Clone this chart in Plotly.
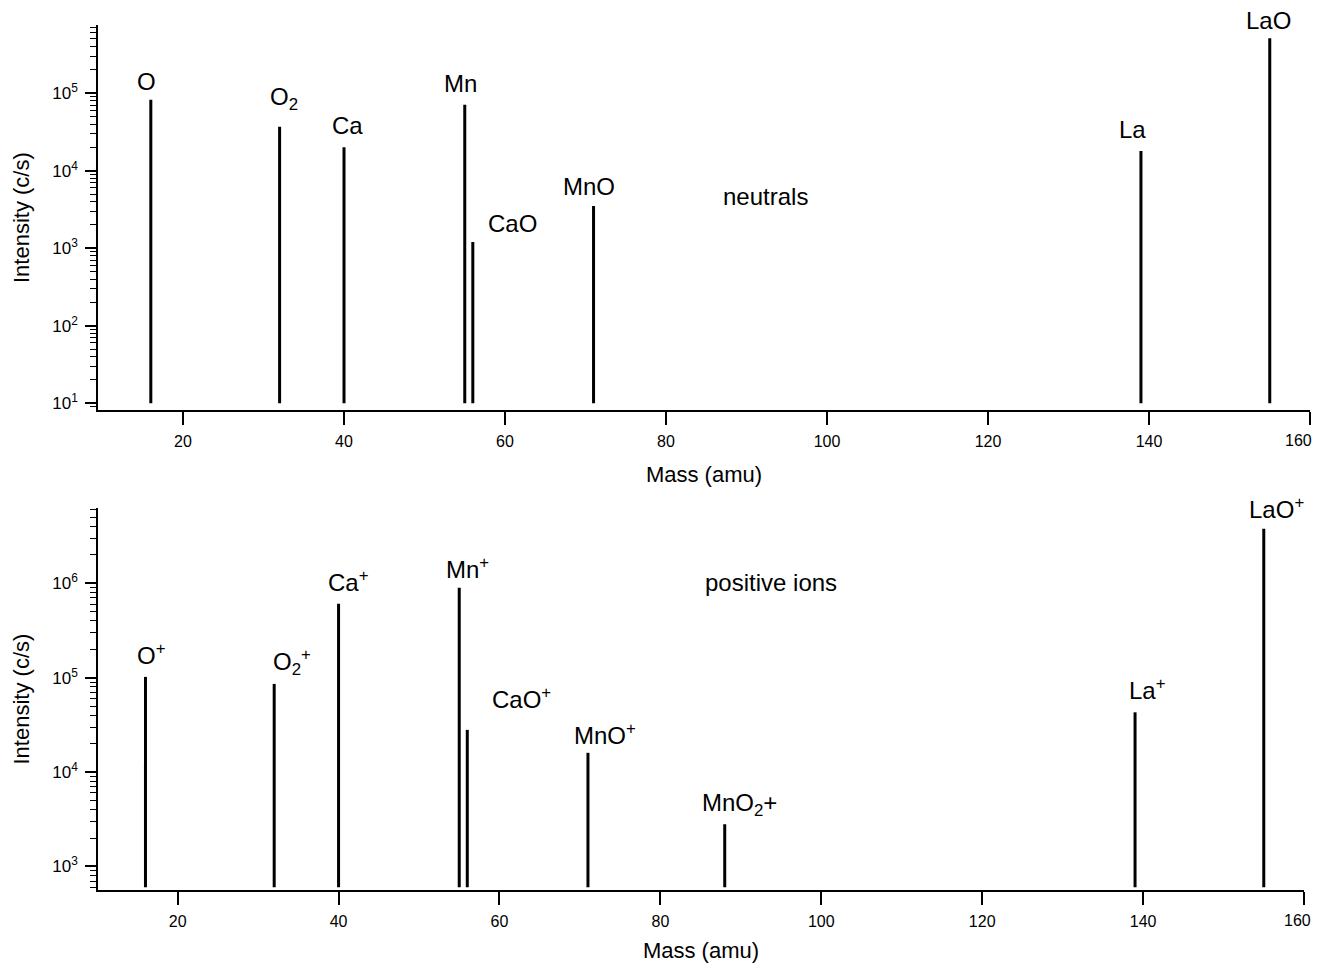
import plotly.graph_objects as go

# ---- data ----
neutral_mass = [16, 32, 40, 55, 56, 71, 139, 155]
neutral_intensity = [8.2e4, 3.7e4, 2.0e4, 7.1e4, 1.2e3, 3.5e3, 1.8e4, 5.1e5]
neutral_labels = ["O", "O<sub>2</sub>", "Ca", "Mn", "CaO", "MnO", "La", "LaO"]
neutral_base = 10

ion_mass = [16, 32, 40, 55, 56, 71, 88, 139, 155]
ion_intensity = [1.02e5, 8.6e4, 6.1e5, 9.0e5, 2.8e4, 1.6e4, 2.8e3, 4.3e4, 3.8e6]
ion_labels = ["O<sup>+</sup>", "O<sub>2</sub><sup>+</sup>", "Ca<sup>+</sup>", "Mn<sup>+</sup>",
              "CaO<sup>+</sup>", "MnO<sup>+</sup>", "MnO<sub>2</sub>+", "La<sup>+</sup>",
              "LaO<sup>+</sup>"]
ion_base = 600

x_ticks = [20, 40, 60, 80, 100, 120, 140, 160]

# label placement (x in amu, y as log10 intensity, extra pixel shift)
neutral_label_pos = [(15.5, 5.146, 0), (32.6, 4.93, 0), (40.4, 4.58, 0), (54.5, 5.12, 0),
                     (60.9, 3.323, 0), (70.4, 3.798, 0), (138.0, 4.53, 0), (154.9, 5.80, 11)]
ion_label_pos = [(16.7, 5.247, 0), (34.2, 5.17, 0), (41.2, 6.028, 0), (56.0, 6.165, 0),
                 (62.8, 4.783, 0), (73.1, 4.403, 0), (89.8, 3.66, 0), (140.5, 4.878, 0),
                 (156.6, 6.70, 9)]


def stems(xs, ys, base):
    X, Y = [], []
    for x, y in zip(xs, ys):
        X += [x, x, None]
        Y += [base, y, None]
    return X, Y


FONT = "Liberation Sans, Arial, sans-serif"
fig = go.Figure()

X, Y = stems(neutral_mass, neutral_intensity, neutral_base)
fig.add_trace(go.Scatter(x=X, y=Y, mode="lines", line=dict(color="black", width=3),
                         xaxis="x", yaxis="y", showlegend=False, hoverinfo="skip"))
X, Y = stems(ion_mass, ion_intensity, ion_base)
fig.add_trace(go.Scatter(x=X, y=Y, mode="lines", line=dict(color="black", width=3),
                         xaxis="x2", yaxis="y2", showlegend=False, hoverinfo="skip"))


def ytickinfo(lo, hi):
    vals = [10 ** k for k in range(lo, hi + 1)]
    text = ["10<sup>%d</sup>" % k for k in range(lo, hi + 1)]
    minor = [m * 10 ** k for k in range(lo - 1, hi + 1) for m in range(2, 10)]
    return vals, text, minor


W, H = 1306, 955
OFF = 8  # page body margin


def px(v):
    return (v - OFF) / W


def py(v):
    return 1 - (v - OFF) / H


# the last x tick label sits at the page edge: drawn as an annotation so it stays visible
x_ticktext = [str(v) for v in x_ticks[:-1]] + [""]
TICK_FONT = dict(family=FONT, size=16, color="black")

common_x = dict(showline=True, linecolor="black", linewidth=1.5, ticks="outside", ticklen=13,
                tickwidth=1.5, tickcolor="black", tickvals=x_ticks, ticktext=x_ticktext,
                showgrid=False, zeroline=False, ticklabelstandoff=3,
                tickfont=TICK_FONT,
                title=dict(text="Mass (amu)", font=dict(family=FONT, size=22, color="black"), standoff=17))

v1, t1, m1 = ytickinfo(1, 5)
v2, t2, m2 = ytickinfo(3, 6)


def common_y(vals, text, minor, rng, dom):
    return dict(type="log", range=rng, domain=dom, showline=True, linecolor="black", linewidth=1.5,
                ticks="outside", ticklen=11, tickwidth=1.5, tickcolor="black", tickvals=vals,
                ticktext=text, showgrid=False, zeroline=False, ticklabelstandoff=4,
                minor=dict(tickvals=minor, ticks="outside", ticklen=6, tickwidth=1.2, tickcolor="black",
                           showgrid=False),
                tickfont=dict(family=FONT, size=17, color="black"),
                title=dict(text="Intensity (c/s)", font=dict(family=FONT, size=22, color="black"),
                           standoff=17))


fig.update_layout(
    width=W, height=H, margin=dict(l=0, r=0, t=0, b=0),
    paper_bgcolor="white", plot_bgcolor="white",
    xaxis=dict(common_x, range=[9.44, 160], domain=[px(98), px(1310)], anchor="y"),
    yaxis=common_y(v1, t1, m1, [0.91, 5.88], [py(412), py(25)]) | dict(anchor="x"),
    xaxis2=dict(common_x, range=[10.1, 160], domain=[px(98), px(1304)], anchor="y2"),
    yaxis2=common_y(v2, t2, m2, [2.747, 6.80], [py(894), py(510)]) | dict(anchor="x2"),
)

LABEL_FONT = dict(family=FONT, size=24, color="black")
ann = []
for lab, (x, y, s) in zip(neutral_labels, neutral_label_pos):
    ann.append(dict(x=x, y=y, yshift=s, xref="x", yref="y", text=lab, showarrow=False,
                    font=LABEL_FONT))
ann.append(dict(x=92.3, y=3.67, xref="x", yref="y", text="neutrals", showarrow=False,
                font=LABEL_FONT))
for lab, (x, y, s) in zip(ion_labels, ion_label_pos):
    ann.append(dict(x=x, y=y, yshift=s, xref="x2", yref="y2", text=lab, showarrow=False,
                    font=LABEL_FONT))
ann.append(dict(x=93.8, y=6.006, xref="x2", yref="y2", text="positive ions", showarrow=False,
                font=LABEL_FONT))
# last x tick labels
for xr, yr, xs in (("x", "y domain", 4), ("x2", "y2 domain", 9)):
    ann.append(dict(x=x_ticks[-1], y=0, xref=xr, yref=yr, text=str(x_ticks[-1]), showarrow=False,
                    xanchor="right", yanchor="middle", xshift=xs, yshift=-30, font=TICK_FONT))
fig.update_layout(annotations=ann)

fig.write_html("out.html", config={"displayModeBar": False})
